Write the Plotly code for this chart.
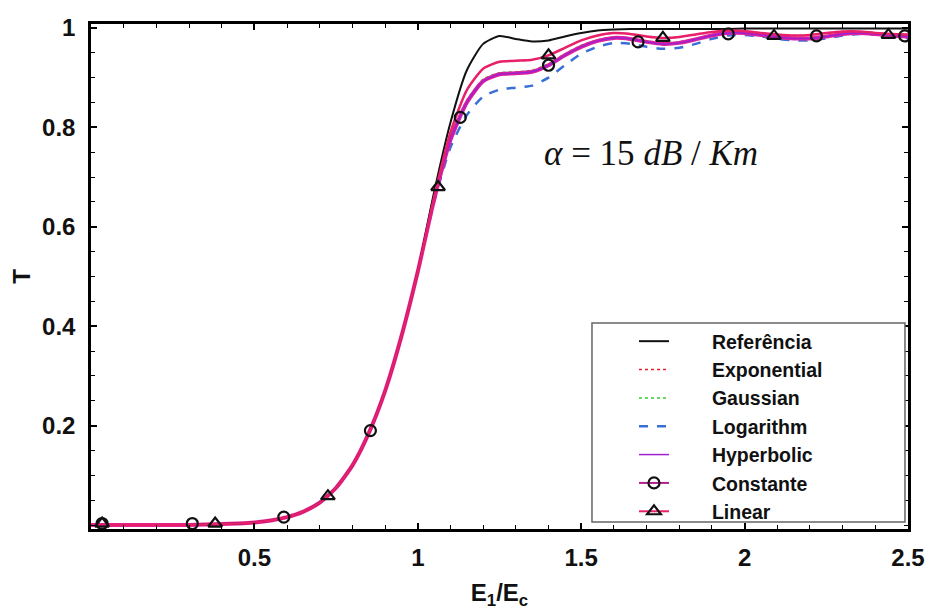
import plotly.graph_objects as go

# ---------------- data ----------------
x = [0.00, 0.05, 0.10, 0.15, 0.20, 0.25, 0.30, 0.35, 0.40, 0.45, 0.50, 0.55,
     0.60, 0.65, 0.70, 0.75, 0.80, 0.85, 0.90, 0.95, 1.00, 1.05, 1.10, 1.15,
     1.20, 1.25, 1.30, 1.35, 1.40, 1.45, 1.50, 1.55, 1.60, 1.65, 1.70, 1.75,
     1.80, 1.85, 1.90, 1.95, 2.00, 2.05, 2.10, 2.15, 2.20, 2.25, 2.30, 2.35,
     2.40, 2.45, 2.50]

rise = [0, 0, 0, 0, 0, 0, 0, 0.001, 0.002, 0.003, 0.005, 0.009,
        0.016, 0.027, 0.045, 0.075, 0.12, 0.185, 0.27, 0.38, 0.51]

referencia = rise + [0.67, 0.81, 0.915, 0.968, 0.984, 0.978, 0.973, 0.975, 0.983,
                     0.99, 0.995, 0.997, 0.998, 0.998, 0.998, 0.998, 0.998, 0.998,
                     0.998, 0.999, 0.999, 0.999, 0.999, 0.999, 0.999, 0.999, 0.999,
                     0.999, 0.999, 0.999]
exponential = rise + [0.66, 0.79, 0.875, 0.918, 0.932, 0.934, 0.936, 0.945, 0.96,
                      0.975, 0.985, 0.99, 0.988, 0.983, 0.98, 0.982, 0.987, 0.992,
                      0.995, 0.994, 0.99, 0.987, 0.985, 0.986, 0.99, 0.993, 0.993,
                      0.99, 0.988, 0.987]
gaussian = rise + [0.657, 0.78, 0.855, 0.897, 0.91, 0.912, 0.915, 0.928, 0.948,
                   0.965, 0.976, 0.982, 0.98, 0.974, 0.97, 0.972, 0.979, 0.986,
                   0.991, 0.991, 0.987, 0.983, 0.98, 0.98, 0.984, 0.989, 0.991,
                   0.989, 0.986, 0.984]
logarithm = rise + [0.65, 0.76, 0.825, 0.862, 0.876, 0.88, 0.884, 0.9, 0.925,
                    0.948, 0.962, 0.97, 0.968, 0.962, 0.958, 0.96, 0.968, 0.978,
                    0.985, 0.986, 0.983, 0.978, 0.975, 0.975, 0.979, 0.985, 0.988,
                    0.987, 0.983, 0.98]
hyperbolic = rise + [0.655, 0.775, 0.85, 0.893, 0.907, 0.909, 0.912, 0.925, 0.945,
                     0.962, 0.974, 0.98, 0.978, 0.972, 0.968, 0.97, 0.977, 0.985,
                     0.99, 0.99, 0.986, 0.982, 0.979, 0.979, 0.983, 0.988, 0.99,
                     0.988, 0.985, 0.983]
constante = hyperbolic
linear = exponential

constante_mx = [0.034, 0.31, 0.59, 0.855, 1.13, 1.40, 1.674, 1.95, 2.22, 2.49]
constante_my = [0.003, 0.003, 0.016, 0.19, 0.82, 0.925, 0.972, 0.988, 0.984, 0.984]
linear_mx = [0.034, 0.38, 0.725, 1.062, 1.40, 1.75, 2.09, 2.44]
linear_my = [0.003, 0.003, 0.058, 0.68, 0.945, 0.98, 0.984, 0.986]

names = ["Referência", "Exponential", "Gaussian", "Logarithm", "Hyperbolic",
         "Constante", "Linear"]

x_tickvals = [0.5, 1, 1.5, 2, 2.5]
x_ticktext = ["0.5", "1", "1.5", "2", "2.5"]
y_tickvals = [0.2, 0.4, 0.6, 0.8, 1]
y_ticktext = ["0.2", "0.4", "0.6", "0.8", "1"]

FONT = "Liberation Sans, Arial, sans-serif"
PAD = "\u00a0" * 7  # gap between legend sample and label

fig = go.Figure()

def line_trace(y, name, color, width, dash, rank, show=True):
    fig.add_trace(go.Scatter(
        x=x, y=y, mode="lines", name=PAD + name,
        line=dict(color=color, width=width, dash=dash, shape="spline", smoothing=0.6),
        legendrank=rank, showlegend=show, legendgroup=name))

# curves (drawing order), legend order set by legendrank
line_trace(gaussian, names[2], "#33cc33", 1.5, "dot", 3)
line_trace(exponential, names[1], "#e02030", 1.5, "dot", 2)
line_trace(logarithm, names[3], "#3a6fd8", 2.5, "dash", 4)
line_trace(constante, names[5], "#e0209a", 4, "solid", 6, show=False)
line_trace(hyperbolic, names[4], "#a020d0", 1.5, "solid", 5)
line_trace(referencia, names[0], "#111111", 2, "solid", 1)
line_trace(linear, names[6], "#e8206a", 2.5, "solid", 7, show=False)

# sparse markers
fig.add_trace(go.Scatter(
    x=constante_mx, y=constante_my, mode="markers", showlegend=False,
    legendgroup=names[5],
    marker=dict(symbol="circle-open", size=11, color="#111111", line=dict(width=2.2))))
fig.add_trace(go.Scatter(
    x=linear_mx, y=linear_my, mode="markers", showlegend=False,
    legendgroup=names[6],
    marker=dict(symbol="triangle-up-open", size=12, color="#111111", line=dict(width=2.2))))

# legend entries for marker series
fig.add_trace(go.Scatter(
    x=[None], y=[None], mode="lines+markers", name=PAD + names[5], legendgroup=names[5],
    legendrank=6, line=dict(color="#b0208a", width=2),
    marker=dict(symbol="circle-open", size=11, color="#111111", line=dict(width=2.2))))
fig.add_trace(go.Scatter(
    x=[None], y=[None], mode="lines+markers", name=PAD + names[6], legendgroup=names[6],
    legendrank=7, line=dict(color="#e8206a", width=2),
    marker=dict(symbol="triangle-up-open", size=12, color="#111111", line=dict(width=2.2))))

fig.add_annotation(
    x=1.715, y=0.748, xref="x", yref="y", showarrow=False,
    text="<i>α</i> = 15 <i>dB</i> / <i>Km</i>",
    font=dict(family="Liberation Serif, Times New Roman, serif", size=35, color="#111111"))

# legend frame
fig.add_shape(type="rect", xref="paper", yref="paper",
              x0=0.6132, x1=0.9963, y0=0.0139, y1=0.408,
              line=dict(color="#666666", width=1.5), fillcolor="white", layer="above")

axis_common = dict(
    showline=True, linecolor="black", linewidth=2.5, mirror="allticks",
    ticks="inside", ticklen=6, tickwidth=1.5, tickcolor="black",
    showgrid=False, zeroline=False, automargin=False,
    tickfont=dict(family=FONT, size=24, color="#111111", weight="bold"),
)

fig.update_xaxes(
    range=[0, 2.5], tickvals=x_tickvals, ticktext=x_ticktext,
    minor=dict(ticks="inside", dtick=0.1, tick0=0, ticklen=4, tickcolor="black", tickwidth=1),
    ticklabelstandoff=5,
    title=dict(text="E<sub>1</sub>/E<sub>c</sub>",
               font=dict(family=FONT, size=24, color="#111111", weight="bold"),
               standoff=16),
    **axis_common)
fig.update_yaxes(
    range=[-0.008, 1.008], tickvals=y_tickvals, ticktext=y_ticktext,
    minor=dict(ticks="inside", dtick=0.05, tick0=0, ticklen=4, tickcolor="black", tickwidth=1),
    ticklabelstandoff=8,
    title=dict(text="T", font=dict(family=FONT, size=24, color="#111111", weight="bold"),
               standoff=5),
    **axis_common)

fig.update_layout(
    width=928, height=610,
    margin=dict(l=91, r=20, t=24, b=81),
    plot_bgcolor="white", paper_bgcolor="white",
    showlegend=True,
    legend=dict(
        x=(634 - 91) / 817, y=(529 - 322) / 505, xanchor="left", yanchor="top",
        bgcolor="rgba(0,0,0,0)", borderwidth=0,
        font=dict(family=FONT, size=19.5, color="#111111", weight="bold"),
        itemwidth=30, tracegroupgap=0, traceorder="normal",
    ),
)

fig.write_html("out.html")
